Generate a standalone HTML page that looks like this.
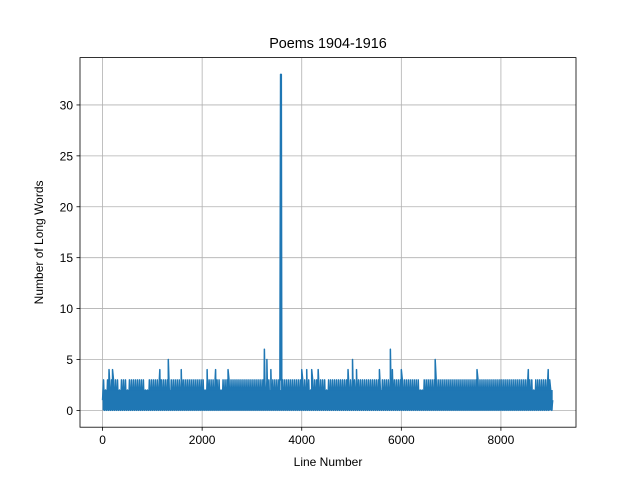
<!DOCTYPE html>
<html><head><meta charset="utf-8"><style>
body{margin:0;background:#fff;}
svg{display:block;font-family:"Liberation Sans","DejaVu Sans",sans-serif;}
</style></head><body>
<svg id="chart" width="640" height="480">
<rect width="640" height="480" fill="#fff"/>
<g id="grid"></g><g id="plot"></g><g id="axes"></g>
</svg>
<script>
// Sampled values every 20 lines (high/low alternation as seen in the picture)
const step = 20;
const sampled =
  "130203030303030302030303020303" +
  "030303030303020203030303030303" +
  "030303020303030303030303030303" +
  "030303030303020303030303030302" +
  "030303030303030303030303030303" +
  "030303030303030303020303030303" +
  "030303030303030303030303030302" +
  "030303030303030203030303030303" +
  "030303030303030303030303030303" +
  "030303030203030303030303030303" +
  "030303030303030303020203030303" +
  "030303030303030303030303030303" +
  "030303030303030303030303030303" +
  "030303030303030303030303030303" +
  "030303030303020303030303030303" +
  "201";
const peakX = [130,200,1150,1320,1580,2100,2270,2520,3250,3300,3380,3575,3590,4000,4100,4200,4330,4930,5020,5100,5560,5780,5820,6000,6680,7520,8550,8950];
const peakY = [4,4,4,5,4,4,4,4,6,5,4,33,33,4,4,4,4,4,5,4,4,6,4,4,5,4,4,4];
const xTicks = [0,2000,4000,6000,8000];
const yTicks = [0,5,10,15,20,25,30];

const L=80,R=576,T=57.6,B=427.2, xmin=-453, xmax=9508, ymin=-1.65, ymax=34.65;
const sx=v=>L+(v-xmin)/(xmax-xmin)*(R-L);
const sy=v=>B-(v-ymin)/(ymax-ymin)*(B-T);
const NS="http://www.w3.org/2000/svg";
function mk(tag,attrs,parent,text){const e=document.createElementNS(NS,tag);for(const k in attrs)e.setAttribute(k,attrs[k]);if(text!==undefined)e.textContent=text;parent.appendChild(e);return e;}
const grid=document.getElementById('grid'),plot=document.getElementById('plot'),axes=document.getElementById('axes');

xTicks.forEach(t=>{
  const g=mk('line',{x1:sx(t),x2:sx(t),y1:T,y2:B,stroke:'#b0b0b0','stroke-width':0.8},grid);
  
  
  mk('line',{x1:sx(t),x2:sx(t),y1:B,y2:B+3.5,stroke:'#000','stroke-width':0.8},axes);
  const tx=mk('text',{x:sx(t),y:B+17,'font-size':12,'text-anchor':'middle'},axes,String(t));
  
  
});
yTicks.forEach(t=>{
  const g=mk('line',{x1:L,x2:R,y1:sy(t),y2:sy(t),stroke:'#b0b0b0','stroke-width':0.8},grid);
  
  
  mk('line',{x1:L-3.5,x2:L,y1:sy(t),y2:sy(t),stroke:'#000','stroke-width':0.8},axes);
  const tx=mk('text',{x:L-7,y:sy(t)+4.5,'font-size':12,'text-anchor':'end'},axes,String(t));
  
  
});

let pts=[];
for(let i=0;i<sampled.length;i++){pts.push([i*step,+sampled[i]]);}
peakX.forEach((x,i)=>pts.push([x,peakY[i]]));
pts.sort((a,b)=>a[0]-b[0]);
const lastX=pts[pts.length-1][0];
const d=pts.map((p,i)=>(i?'L':'M')+sx(p[0]).toFixed(2)+' '+sy(p[1]).toFixed(2)).join('');
const line=mk('path',{d:d,fill:'none',stroke:'#1f77b4','stroke-width':1.5,'stroke-linejoin':'round'},plot);


const band=mk('rect',{x:sx(0),y:sy(2),width:sx(lastX)-sx(0),height:sy(0)-sy(2),fill:'#1f77b4'},plot);



const frame=mk('rect',{x:L,y:T,width:R-L,height:B-T,fill:'none',stroke:'#000','stroke-width':0.8},axes);


const title=mk('text',{x:(L+R)/2,y:48,'font-size':14.4,'text-anchor':'middle'},axes,'Poems 1904-1916');


const xl=mk('text',{x:(L+R)/2,y:466,'font-size':12,'text-anchor':'middle'},axes,'Line Number');


const yl=mk('text',{x:0,y:0,'font-size':12,'text-anchor':'middle',transform:'translate(43,'+((T+B)/2)+') rotate(-90)'},axes,'Number of Long Words');


</script>
</body></html>
